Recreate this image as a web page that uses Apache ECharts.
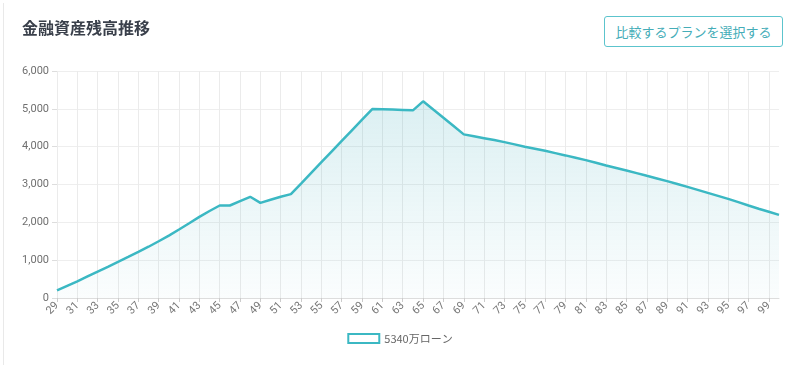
<!DOCTYPE html>
<html>
<head>
<meta charset="utf-8">
<script src="https://cdn.jsdelivr.net/npm/echarts@6/dist/echarts.min.js"></script>
<style>
html,body{margin:0;padding:0;background:#fff;}
#wrap{position:relative;width:800px;height:368px;overflow:hidden;}
#border{position:absolute;left:3px;top:3px;width:1px;height:362px;background:#e9e9e9;}
#chart{position:absolute;left:0;top:0;width:800px;height:368px;}
#btn{position:absolute;left:604px;top:16px;width:177px;height:29px;border:1px solid #5cc4cd;border-radius:3px;
color:#45adb8;font-family:"Noto Sans CJK JP","Noto Sans",sans-serif;font-size:13px;line-height:29px;text-align:center;background:#fff;}
</style>
</head>
<body>
<div id="wrap">
<div id="border"></div>
<div id="chart"></div>
<div id="btn">比較するプランを選択する</div>
</div>
<script>
const titleText = '金融資産残高推移';
const seriesName = '5340万ローン';
const ages = [];
for (let a = 29; a <= 100; a++) ages.push(String(a));
const balance = [
  200, 320, 440, 570, 700, 825, 953, 1085, 1218, 1355,
  1500, 1650, 1810, 1975, 2145, 2300, 2445, 2445, 2560, 2675,
  2515, 2595, 2675, 2745, 3026, 3308, 3589, 3870, 4152, 4433,
  4714, 4995, 4990, 4980, 4970, 4960, 5198, 4980, 4763, 4545,
  4325, 4275, 4225, 4175, 4120, 4060, 3997, 3945, 3891, 3830,
  3769, 3707, 3645, 3575, 3504, 3438, 3372, 3301, 3230, 3160,
  3089, 3014, 2938, 2859, 2779, 2700, 2620, 2533, 2446, 2360,
  2280, 2197
];
const yTicks = [0, 1000, 2000, 3000, 4000, 5000, 6000];
const teal = '#3bb8c3';

const chart = echarts.init(document.getElementById('chart'), null, {renderer: 'canvas'});
chart.setOption({
  animation: false,
  textStyle: {fontFamily: '"Noto Sans CJK JP","Noto Sans",sans-serif'},
  title: {
    text: titleText, left: 17, top: 15,
    textStyle: {fontSize: 16, fontWeight: 'bold', color: '#3a404b', fontFamily: '"Noto Sans CJK JP",sans-serif'}
  },
  legend: {
    data: [seriesName], left: 'center', top: 328,
    icon: 'rect', itemWidth: 31, itemHeight: 9, itemGap: 10,
    textStyle: {fontSize: 11, color: '#666', fontFamily: '"Noto Sans CJK JP",sans-serif'},
    itemStyle: {color: '#fff', borderColor: teal, borderWidth: 2}
  },
  grid: {left: 57, right: 21, top: 71, bottom: 70, containLabel: false},
  xAxis: {
    type: 'category', data: ages, boundaryGap: false,
    axisLine: {lineStyle: {color: '#ddd'}},
    axisTick: {show: true, interval: 1, length: 4, lineStyle: {color: '#ccc'}},
    axisLabel: {interval: 1, rotate: 45, fontSize: 11, color: '#777', margin: 6, fontFamily: 'Roboto, sans-serif'},
    splitLine: {show: true, interval: 1, lineStyle: {color: '#ebebeb'}}
  },
  yAxis: {
    type: 'value', min: yTicks[0], max: yTicks[yTicks.length - 1], interval: 1000,
    axisLine: {show: false},
    axisTick: {show: true, length: 5, lineStyle: {color: '#ddd'}},
    axisLabel: {fontSize: 11, color: '#707070', margin: 8, fontFamily: 'Roboto, sans-serif',
      formatter: v => v.toLocaleString('en-US')},
    splitLine: {lineStyle: {color: '#eee'}}
  },
  series: [{
    name: seriesName, type: 'line', data: balance,
    symbol: 'none', smooth: false,
    lineStyle: {color: teal, width: 2.5},
    itemStyle: {color: '#fff', borderColor: teal, borderWidth: 2},
    areaStyle: {
      color: new echarts.graphic.LinearGradient(0, 0, 0, 1, [
        {offset: 0, color: 'rgba(59,170,185,0.26)'},
        {offset: 1, color: 'rgba(59,170,185,0.03)'}
      ])
    }
  }]
});
</script>
</body>
</html>
